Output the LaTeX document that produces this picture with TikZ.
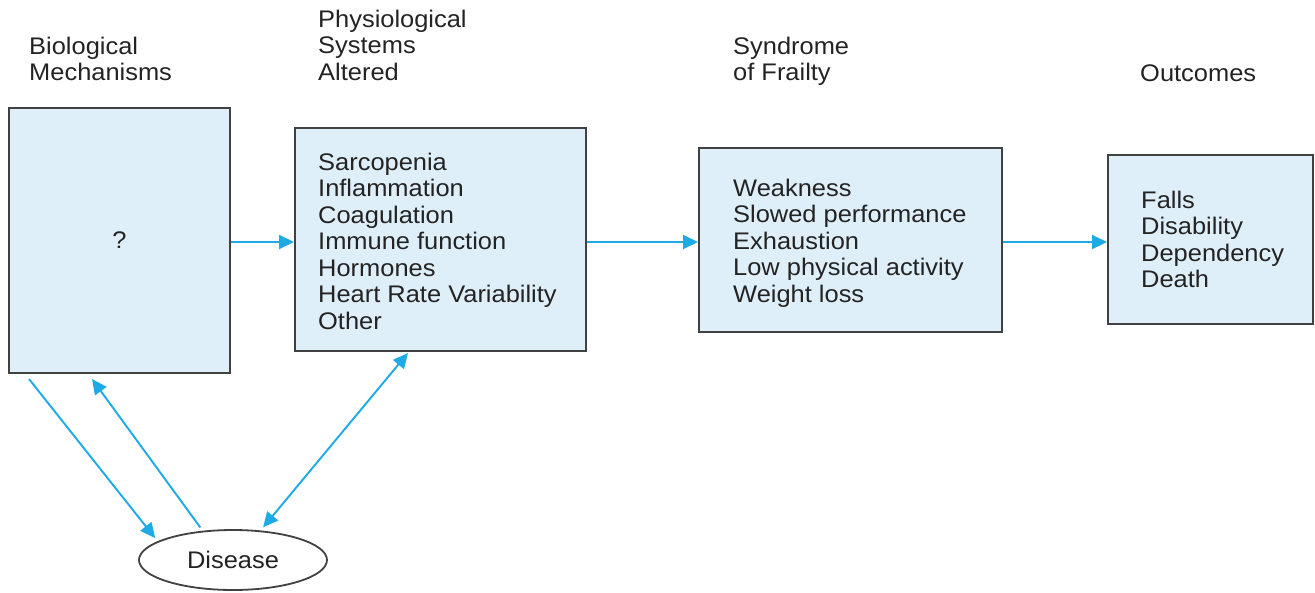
\documentclass[tikz,border=0pt]{standalone}
\usepackage{fontspec}
\setmainfont{Liberation Sans}[FakeStretch=1.06]
\usetikzlibrary{arrows.meta,calc,shapes.geometric}

\definecolor{boxfill}{RGB}{223,239,250}
\definecolor{boxline}{RGB}{65,65,65}
\definecolor{arrowblue}{RGB}{30,170,228}
\definecolor{ink}{RGB}{35,35,35}

\newcommand{\lines}[1]{\begin{tabular}[t]{@{}l@{}}#1\end{tabular}}

\tikzset{
  stagebox/.style={draw=boxline, fill=boxfill, line width=2pt, inner sep=0pt,
    text=ink, font=\fontsize{24}{26.5}\selectfont},
  label/.style={anchor=base west, inner sep=0pt, text=ink,
    font=\fontsize{24}{26.5}\selectfont},
  flow/.style={draw=arrowblue, line width=1.9pt,
    -{Triangle[length=15pt,width=14pt]}},
  twoway/.style={draw=arrowblue, line width=1.9pt,
    {Triangle[length=15pt,width=14pt]}-{Triangle[length=15pt,width=14pt]}},
  diseasenode/.style={ellipse, draw=boxline, line width=1.8pt, fill=white,
    minimum width=188pt, minimum height=60pt, inner sep=0pt, text=ink,
    font=\fontsize{24}{26.5}\selectfont}
}

\begin{document}
\begin{tikzpicture}[x=1pt, y=-1pt]
  \useasboundingbox (0,0) rectangle (1315,592);

  % column headings
  \node[label] (h1) at (29,54)   {\lines{Biological\\Mechanisms}};
  \node[label] (h2) at (318,27)  {\lines{Physiological\\Systems\\Altered}};
  \node[label] (h3) at (733,54)  {\lines{Syndrome\\of Frailty}};
  \node[label] (h4) at (1140,81) {\lines{Outcomes}};

  % stage boxes
  \node[stagebox, minimum width=221pt, minimum height=265pt] (b1) at (119.5,240.5) {?};
  \node[stagebox, minimum width=291pt, minimum height=223pt] (b2) at (440.5,239.5) {};
  \node[stagebox, minimum width=303pt, minimum height=184pt] (b3) at (850.5,240) {};
  \node[stagebox, minimum width=205pt, minimum height=169pt] (b4) at (1210.5,239.5) {};

  % box contents
  \node[label] (t2) at (318,170) {\lines{Sarcopenia\\Inflammation\\Coagulation\\Immune function\\Hormones\\Heart Rate Variability\\Other}};
  \node[label] (t3) at (733,196) {\lines{Weakness\\Slowed performance\\Exhaustion\\Low physical activity\\Weight loss}};
  \node[label] (t4) at (1141,208) {\lines{Falls\\Disability\\Dependency\\Death}};

  % disease
  \node[diseasenode] (d) at (233,560) {Disease};

  % main pathway
  \draw[flow] ($(b1.east)+(0,1.5)$) -- ($(b2.west |- b1.east)+(0,1.5)$);
  \draw[flow] ($(b2.east)+(0,2.5)$) -- ($(b3.west |- b2.east)+(0,2.5)$);
  \draw[flow] ($(b3.east)+(0,2)$) -- ($(b4.west |- b3.east)+(0,2)$);

  % links with disease
  \draw[flow, shorten >=4pt] ($(b1.south west)+(21,5)$) -- (d.166);
  \draw[flow, shorten <=4pt] (d.136) -- ($(b1.south west)+(84,5)$);
  \draw[twoway, shorten >=4pt] ($(b2.south west)+(114,1)$) -- (d.47);
\end{tikzpicture}
\end{document}
